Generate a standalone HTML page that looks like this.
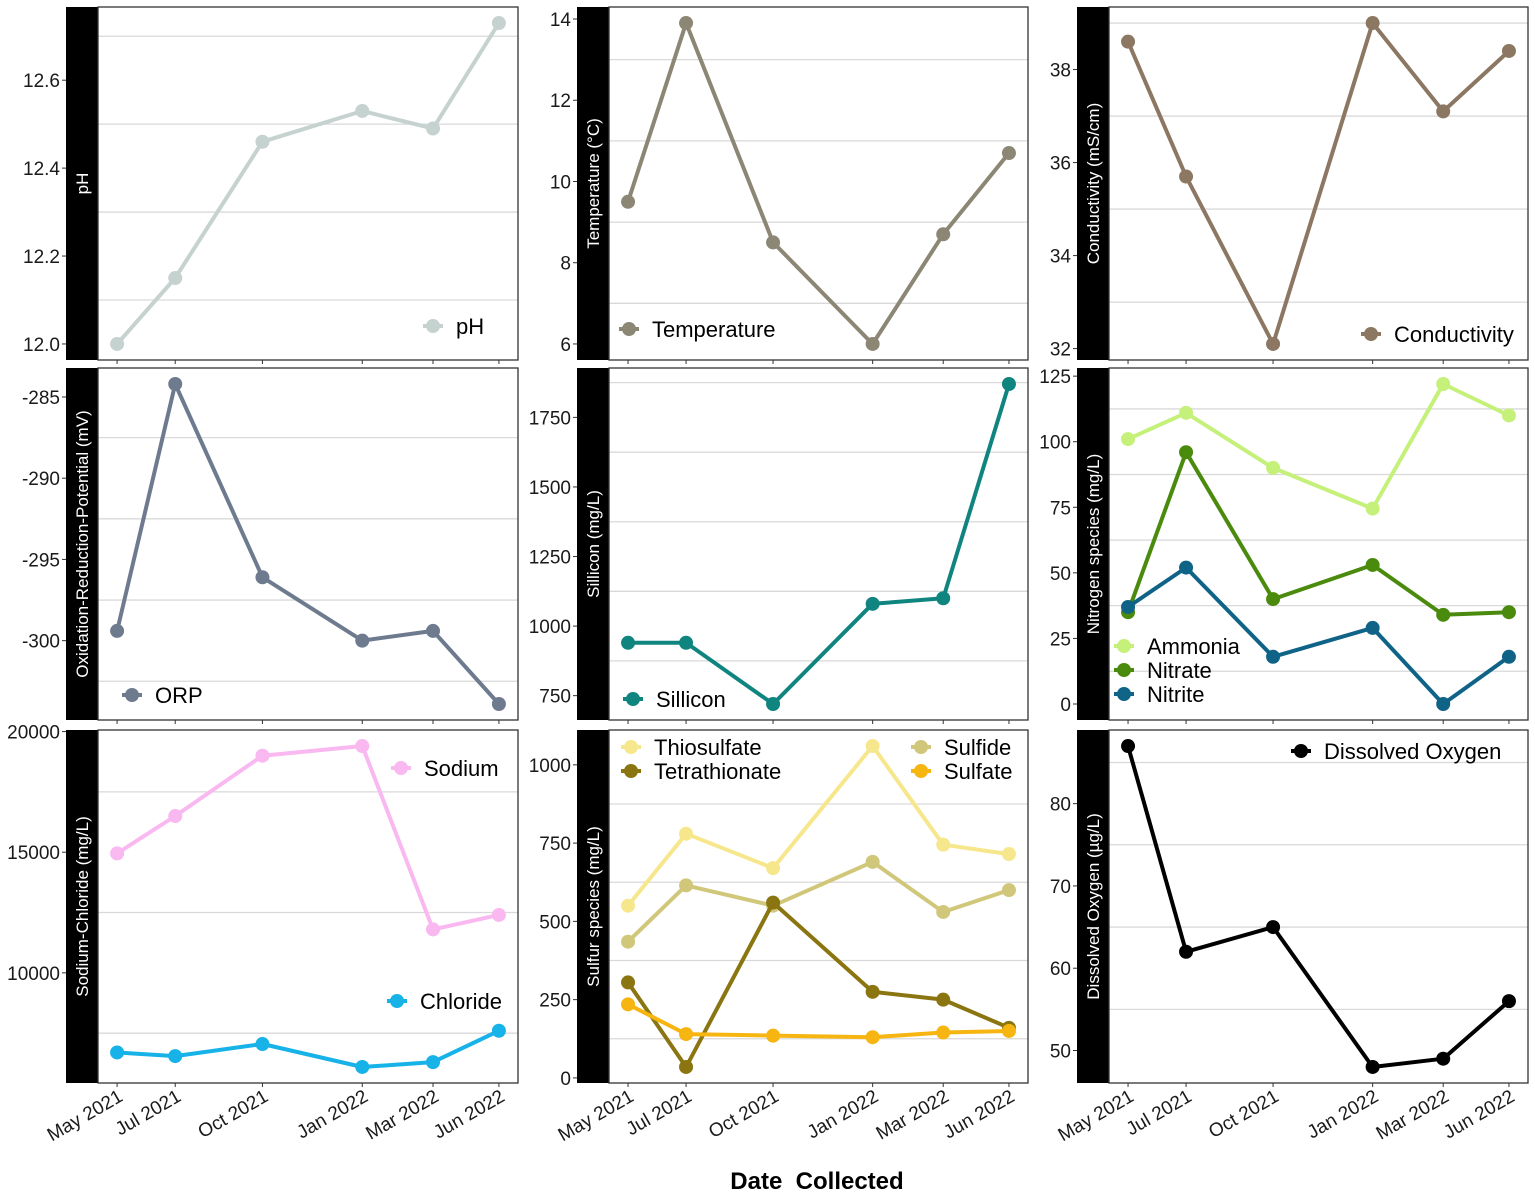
<!DOCTYPE html>
<html><head><meta charset="utf-8"><style>
body{margin:0;background:#fff}
svg{display:block;font-family:"Liberation Sans",Arial,sans-serif}
</style></head><body>
<svg id="c" width="1535" height="1195" xmlns="http://www.w3.org/2000/svg"></svg>
<script>
const dates = ["2021-05-15","2021-07-14","2021-10-12","2022-01-23","2022-04-06","2022-06-13"];
const dateLabels = ["May 2021","Jul 2021","Oct 2021","Jan 2022","Mar 2022","Jun 2022"];
const phVals = [12.0, 12.15, 12.46, 12.53, 12.49, 12.73];
const tempVals = [9.5, 13.9, 8.5, 6.0, 8.7, 10.7];
const condVals = [38.6, 35.7, 32.1, 39.0, 37.1, 38.4];
const orpVals = [-299.4, -284.2, -296.1, -300.0, -299.4, -303.9];
const siVals = [940, 940, 720, 1080, 1100, 1870];
const ammoniaVals = [101, 111, 90, 74.5, 122, 110];
const nitrateVals = [35, 96, 40, 53, 34, 35];
const nitriteVals = [37, 52, 18, 29, 0, 18];
const sodiumVals = [14950, 16500, 19000, 19400, 11800, 12400];
const chlorideVals = [6700, 6550, 7050, 6100, 6300, 7600];
const thioVals = [550, 780, 670, 1060, 745, 715];
const tetraVals = [305, 35, 560, 275, 250, 160];
const sulfideVals = [435, 615, 550, 690, 530, 600];
const sulfateVals = [235, 140, 135, 130, 145, 150];
const doVals = [87, 62, 65, 48, 49, 56];
const phTicks = [12.0, 12.2, 12.4, 12.6];
const tempTicks = [6, 8, 10, 12, 14];
const condTicks = [32, 34, 36, 38];
const orpTicks = [-300, -295, -290, -285];
const siTicks = [750, 1000, 1250, 1500, 1750];
const nTicks = [0, 25, 50, 75, 100, 125];
const naclTicks = [10000, 15000, 20000];
const sTicks = [0, 250, 500, 750, 1000];
const doTicks = [50, 60, 70, 80];

const NS="http://www.w3.org/2000/svg";
const svg=document.getElementById('c');
function el(tag,attrs,parent){const e=document.createElementNS(NS,tag);for(const k in attrs)e.setAttribute(k,attrs[k]);(parent||svg).appendChild(e);return e;}
const colsL=[66,577,1077], colsR=[518,1028,1528];
const rowsT=[7,368,730], rowsB=[360,720,1083];
const tnum=dates.map(d=>Date.parse(d));
const tmin=Math.min(...tnum), tmax=Math.max(...tnum);

function panel(ci,ri,name,ytitle,series,ticks,legend,fmt){
  const g=el('g',{});
  
  
  const sx=colsL[ci], px0=sx+32, px1=colsR[ci], py0=rowsT[ri], py1=rowsB[ri];
  const all=[].concat(...series.map(s=>s.vals));
  let mn=Math.min(...all), mx=Math.max(...all), pad=(mx-mn)*0.05;
  const y0=mn-pad, y1=mx+pad;
  const Y=v=>py1-(v-y0)/(y1-y0)*(py1-py0);
  const w=px1-px0, pw=w/1.1, off=(w-pw)/2;
  const X=t=>px0+off+(t-tmin)/(tmax-tmin)*pw;
  const step=ticks[1]-ticks[0];
  for(let v=ticks[0]-step/2; v<=y1; v+=step){
    if(v<y0) continue;
    const gl=el('line',{x1:px0,x2:px1,y1:Y(v),y2:Y(v),stroke:'#d9d9d9','stroke-width':1.3},g);
    
    
  }
  const st=el('rect',{x:sx,y:py0,width:32,height:py1-py0,fill:'#000'},g);
  
  
  const tt=el('text',{x:0,y:0,fill:'#fff','font-size':17,'text-anchor':'middle',transform:`translate(${sx+22},${(py0+py1)/2}) rotate(-90)`},g);
  tt.textContent=ytitle;
  
  
  el('rect',{x:px0,y:py0,width:px1-px0,height:py1-py0,fill:'none',stroke:'#333','stroke-width':1.3},g);
  ticks.forEach(v=>{
    el('line',{x1:sx-4,x2:sx,y1:Y(v),y2:Y(v),stroke:'#333','stroke-width':1},g);
    const lt=el('text',{x:sx-6,y:Y(v)+7,'font-size':19,'text-anchor':'end',fill:'#1a1a1a'},g);
    lt.textContent=fmt?fmt(v):String(v);
    
    
  });
  tnum.forEach((t,i)=>{
    el('line',{x1:X(t),x2:X(t),y1:py1,y2:py1+4,stroke:'#333','stroke-width':1},g);
    if(ri===2){
      const xl=el('text',{x:0,y:0,'font-size':19,'text-anchor':'end',fill:'#1a1a1a',transform:`translate(${X(t)+7},${py1+17}) rotate(-30)`},g);
      xl.textContent=dateLabels[i];
      
      
    }
  });
  series.forEach(s=>{
    const sg=el('g',{},g);
    
    
    const pts=s.vals.map((v,i)=>X(tnum[i]).toFixed(1)+','+Y(v).toFixed(1)).join(' ');
    const pl=el('polyline',{points:pts,fill:'none',stroke:s.color,'stroke-width':4,'stroke-linejoin':'round'},sg);
    
    
    s.vals.forEach((v,i)=>{
      const c=el('circle',{cx:X(tnum[i]),cy:Y(v),r:7,fill:s.color},sg);
      
      
    });
  });
  legend.forEach(L=>{
    const s=series.find(q=>q.key===L.key);
    const lg=el('g',{},g);
    
    
    el('line',{x1:L.x-10,x2:L.x+10,y1:L.y,y2:L.y,stroke:s.color,'stroke-width':4},lg);
    el('circle',{cx:L.x,cy:L.y,r:7,fill:s.color},lg);
    const t=el('text',{x:L.x+23,y:L.y+8,'font-size':22,fill:'#000'},lg);
    t.textContent=L.label;
  });
}
const f2=v=>v.toFixed(1);
panel(0,0,'ph','pH',[{key:'ph',vals:phVals,color:'#c5d2d0'}],phTicks,[{key:'ph',label:'pH',x:433,y:326}],f2);
panel(1,0,'temperature','Temperature (°C)',[{key:'temperature',vals:tempVals,color:'#8c8675'}],tempTicks,[{key:'temperature',label:'Temperature',x:629,y:329}]);
panel(2,0,'conductivity','Conductivity (mS/cm)',[{key:'conductivity',vals:condVals,color:'#8b7762'}],condTicks,[{key:'conductivity',label:'Conductivity',x:1371,y:334}]);
panel(0,1,'orp','Oxidation-Reduction-Potential (mV)',[{key:'orp',vals:orpVals,color:'#6e7b8f'}],orpTicks,[{key:'orp',label:'ORP',x:132,y:695}]);
panel(1,1,'silicon','Sillicon (mg/L)',[{key:'silicon',vals:siVals,color:'#10857f'}],siTicks,[{key:'silicon',label:'Sillicon',x:633,y:699}]);
panel(2,1,'nitrogen','Nitrogen species (mg/L)',[
  {key:'ammonia',vals:ammoniaVals,color:'#c5f07a'},
  {key:'nitrate',vals:nitrateVals,color:'#4a8a0c'},
  {key:'nitrite',vals:nitriteVals,color:'#0e6387'}],nTicks,[
  {key:'ammonia',label:'Ammonia',x:1124,y:646},
  {key:'nitrate',label:'Nitrate',x:1124,y:670},
  {key:'nitrite',label:'Nitrite',x:1124,y:694}]);
panel(0,2,'sodium-chloride','Sodium-Chloride (mg/L)',[
  {key:'sodium',vals:sodiumVals,color:'#f9b8f0'},
  {key:'chloride',vals:chlorideVals,color:'#17b2e8'}],naclTicks,[
  {key:'sodium',label:'Sodium',x:401,y:768},
  {key:'chloride',label:'Chloride',x:397,y:1001}]);
panel(1,2,'sulfur','Sulfur species (mg/L)',[
  {key:'thiosulfate',vals:thioVals,color:'#f7e78c'},
  {key:'sulfide',vals:sulfideVals,color:'#d0c77a'},
  {key:'tetrathionate',vals:tetraVals,color:'#8a7510'},
  {key:'sulfate',vals:sulfateVals,color:'#f7b512'}],sTicks,[
  {key:'thiosulfate',label:'Thiosulfate',x:631,y:747},
  {key:'tetrathionate',label:'Tetrathionate',x:631,y:771},
  {key:'sulfide',label:'Sulfide',x:921,y:747},
  {key:'sulfate',label:'Sulfate',x:921,y:771}]);
panel(2,2,'dissolved-oxygen','Dissolved Oxygen (µg/L)',[{key:'dissolved-oxygen',vals:doVals,color:'#000'}],doTicks,[{key:'dissolved-oxygen',label:'Dissolved  Oxygen',x:1301,y:751}]);
const xt=el('text',{x:817,y:1189,'font-size':24,'font-weight':'bold','text-anchor':'middle',fill:'#000'});
xt.style.whiteSpace='pre';
xt.textContent='Date  Collected';


</script>
</body></html>
